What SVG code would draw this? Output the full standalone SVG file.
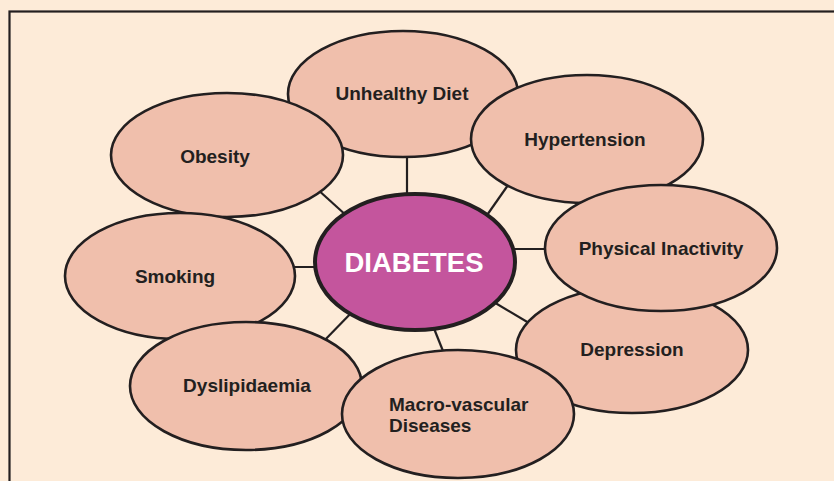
<svg xmlns="http://www.w3.org/2000/svg" width="834" height="481" viewBox="0 0 834 481">
  <style>
    .bg { fill: #fdebd8; }
    .frame { fill: none; stroke: #231f20; stroke-width: 2.2; }
    .link { stroke: #231f20; stroke-width: 2.2; fill: none; }
    .node ellipse { fill: #f0bfac; stroke: #231f20; stroke-width: 2.6; }
    .node text { font-family: "Liberation Sans", Arial, sans-serif; font-weight: bold; font-size: 19px; fill: #231f20; text-anchor: middle; }
    #diabetes ellipse { fill: #c4559d; stroke: #231f20; stroke-width: 4; }
    #diabetes text { font-size: 27.5px; fill: #ffffff; }
  </style>

  <rect class="bg" x="0" y="0" width="834" height="481"/>
  <rect class="frame" x="9.5" y="11.5" width="840" height="480"/>

  <!-- spokes from the central node -->
  <g id="connectors">
    <line class="link" x1="407" y1="150" x2="407" y2="200"/>
    <line class="link" x1="513" y1="178" x2="485" y2="218"/>
    <line class="link" x1="316" y1="188" x2="348" y2="217"/>
    <line class="link" x1="288" y1="267" x2="322" y2="267"/>
    <line class="link" x1="510" y1="249" x2="552" y2="249"/>
    <line class="link" x1="492" y1="301" x2="534" y2="326"/>
    <line class="link" x1="356" y1="308" x2="320" y2="345"/>
    <line class="link" x1="433" y1="326" x2="445" y2="356"/>
  </g>

  <g id="unhealthy-diet" class="node">
    <ellipse cx="403" cy="94" rx="115" ry="63"/>
    <text x="402" y="100">Unhealthy Diet</text>
  </g>
  <g id="obesity" class="node">
    <ellipse cx="227" cy="155" rx="116" ry="62"/>
    <text x="215" y="163">Obesity</text>
  </g>
  <g id="hypertension" class="node">
    <ellipse cx="587" cy="139" rx="116" ry="64"/>
    <text x="585" y="146">Hypertension</text>
  </g>
  <g id="smoking" class="node">
    <ellipse cx="180" cy="276" rx="115" ry="63"/>
    <text x="175" y="283">Smoking</text>
  </g>
  <g id="depression" class="node">
    <ellipse cx="632" cy="350" rx="116" ry="63"/>
    <text x="632" y="356">Depression</text>
  </g>
  <g id="physical-inactivity" class="node">
    <ellipse cx="661" cy="248" rx="116" ry="63"/>
    <text x="661" y="255">Physical Inactivity</text>
  </g>
  <g id="dyslipidaemia" class="node">
    <ellipse cx="246" cy="386" rx="116" ry="64"/>
    <text x="247" y="392">Dyslipidaemia</text>
  </g>
  <g id="macro-vascular" class="node">
    <ellipse cx="458" cy="414" rx="116" ry="64"/>
    <text x="389" y="411" style="text-anchor:start">Macro-vascular</text>
    <text x="389" y="432" style="text-anchor:start">Diseases</text>
  </g>

  <g id="diabetes" class="node">
    <ellipse cx="415" cy="262" rx="100" ry="68"/>
    <text x="414" y="272">DIABETES</text>
  </g>
</svg>
